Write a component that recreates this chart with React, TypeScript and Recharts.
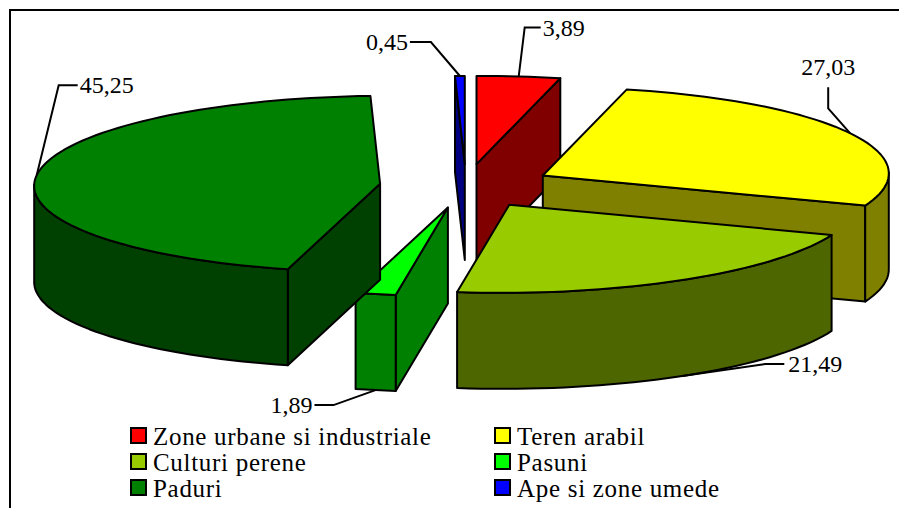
import React from 'react';
import { PieChart, Pie, Legend } from 'recharts';

const categories = [
  'Zone urbane si industriale',
  'Teren arabil',
  'Culturi perene',
  'Pasuni',
  'Paduri',
  'Ape si zone umede',
];
const values = [3.89, 27.03, 21.49, 1.89, 45.25, 0.45];
const colors = ['#FF0000', '#FFFF00', '#99CC00', '#00FF00', '#008000', '#0000FF'];
const wallColors = ['#800000', '#808000', '#4D6600', '#008000', '#004000', '#000080'];

const data = categories.map((name, i) => ({ name, value: values[i], fill: colors[i] }));

const FONT = '"Liberation Serif", "Times New Roman", serif';
const DEPTH = 96; // extrusion of the pie
const EXPLODE = 0.25;

// Leader line layout relative to the rim point: elbow, line end, text x, text anchor
const leaders = [
  { elbow: [6, -49], end: [22, -49], tx: 24, dy: -41, anchor: 'start', bottom: false },
  { elbow: [-22, -25], end: [-22, -46], tx: -22, dy: -58, anchor: 'middle', bottom: false },
  { elbow: [83, -12], end: [102, -12], tx: 106, dy: -4, anchor: 'start', bottom: true },
  { elbow: [-42, 15], end: [-61, 15], tx: -63, dy: 23, anchor: 'end', bottom: true },
  { elbow: [22, -90], end: [41, -90], tx: 43, dy: -82, anchor: 'start', bottom: false },
  { elbow: [-29, -34], end: [-50, -34], tx: -52, dy: -26, anchor: 'end', bottom: false },
];

const rad = (d: number) => (d * Math.PI) / 180;

// skewed projection of the pie plane, t is clockwise degrees from 12 o'clock
const project = (t: number, r: number) => ({
  x: 3.46 * r * Math.sin(rad(t)),
  y: r * (-0.02 * Math.sin(rad(t)) - 0.88 * Math.cos(rad(t))),
});

const apexOf = (cx: number, cy: number, mid: number, r: number) => {
  const u = project(mid, r * EXPLODE);
  return { x: cx + u.x, y: cy + u.y };
};

type Pt = { x: number; y: number };
const pathOf = (pts: Pt[], close = true) =>
  pts.map((p, i) => `${i ? 'L' : 'M'}${p.x.toFixed(1)},${p.y.toFixed(1)}`).join(' ') + (close ? ' Z' : '');
const down = (p: Pt): Pt => ({ x: p.x, y: p.y + DEPTH });
const wallOf = (run: Pt[]) => pathOf([...run, ...[...run].reverse().map(down)]);

const Slice3D = (props: any) => {
  const { cx, cy, outerRadius, startAngle, endAngle, index } = props;
  const t0 = 90 - startAngle;
  const t1 = 90 - endAngle;
  const apex = apexOf(cx, cy, (t0 + t1) / 2, outerRadius);
  const rim: Pt[] = [];
  const steps = Math.max(2, Math.ceil((t1 - t0) / 2));
  for (let i = 0; i <= steps; i++) {
    const u = project(t0 + ((t1 - t0) * i) / steps, outerRadius);
    rim.push({ x: apex.x + u.x, y: apex.y + u.y });
  }
  const frontRim = rim.filter((_, i) => {
    const a = rim[i];
    const b = rim[i + 1] || a;
    const c = rim[i - 1] || a;
    return b.x < a.x || c.x > a.x;
  });
  const first = rim[0];
  const last = rim[rim.length - 1];
  const wall = wallColors[index];
  const edge = { stroke: '#000', strokeWidth: 2, strokeLinejoin: 'round' as const };
  return (
    <g>
      {first.x < apex.x && <path d={wallOf([apex, first])} fill={wall} {...edge} />}
      {apex.x < last.x && <path d={wallOf([last, apex])} fill={wall} {...edge} />}
      {frontRim.length > 1 && <path d={wallOf(frontRim)} fill={wall} {...edge} />}
      <path d={pathOf([apex, ...rim])} fill={colors[index]} {...edge} />
    </g>
  );
};

const renderLabel = (props: any) => {
  const { cx, cy, outerRadius, midAngle, index, value } = props;
  const mid = 90 - midAngle;
  const apex = apexOf(cx, cy, mid, outerRadius);
  const u = project(mid, outerRadius);
  const l = leaders[index];
  const p = { x: apex.x + u.x, y: apex.y + u.y + (l.bottom ? DEPTH : 0) };
  const line = [p, { x: p.x + l.elbow[0], y: p.y + l.elbow[1] }, { x: p.x + l.end[0], y: p.y + l.end[1] }];
  return (
    <g key={index}>
      <path d={pathOf(line, false)} fill="none" stroke="#000" strokeWidth={2} />
      <text
        x={p.x + l.tx}
        y={p.y + l.dy}
        textAnchor={l.anchor as any}
        fontFamily={FONT}
        fontSize={24}
        fill="#000"
      >
        {String(value.toFixed(2)).replace('.', ',')}
      </text>
    </g>
  );
};

const renderLegend = () => (
  <div style={{ position: 'absolute', left: 0, top: 0, fontFamily: FONT, fontSize: 25, letterSpacing: 0.7, color: '#000' }}>
    {categories.map((name, i) => (
      <div
        key={name}
        style={{
          position: 'absolute',
          left: i % 2 ? 494 : 130,
          top: 424 + Math.floor(i / 2) * 26,
          height: 25,
          whiteSpace: 'nowrap',
          lineHeight: '25px',
          display: 'flex',
          alignItems: 'center',
        }}
      >
        <span
          style={{
            display: 'inline-block',
            width: 13,
            height: 13,
            background: colors[i],
            border: '2px solid #000',
            marginRight: 6,
            marginTop: -2,
          }}
        />
        {name}
      </div>
    ))}
  </div>
);

export default function App() {
  return (
    <div style={{ position: 'absolute', left: 0, top: 0, width: 899, height: 508, background: '#fff', overflow: 'hidden' }}>
      <div
        style={{
          position: 'absolute',
          left: 9,
          top: 9,
          width: 890,
          height: 499,
          borderTop: '2px solid #000',
          borderLeft: '2px solid #000',
        }}
      />
      <PieChart width={899} height={508} margin={{ top: 0, right: 0, bottom: 0, left: 0 }} style={{ position: 'absolute', left: 0, top: 0 }}>
        <Pie
          data={data}
          dataKey="value"
          nameKey="name"
          cx={466}
          cy={186}
          innerRadius={0}
          outerRadius={100}
          startAngle={90}
          endAngle={-270}
          stroke="none"
          shape={Slice3D}
          label={renderLabel}
          labelLine={false}
          isAnimationActive={false}
        />
        <Legend content={renderLegend} wrapperStyle={{ position: 'absolute', left: 0, top: 0, width: 899 }} />
      </PieChart>
    </div>
  );
}
